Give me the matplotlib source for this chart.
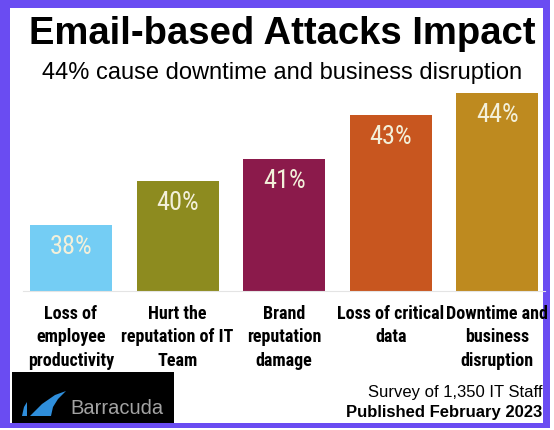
import matplotlib
matplotlib.use("Agg")
import matplotlib.pyplot as plt
from matplotlib.patches import Rectangle, Polygon

categories = [
    "Loss of\nemployee\nproductivity",
    "Hurt the\nreputation of IT\nTeam",
    "Brand\nreputation\ndamage",
    "Loss of critical\ndata",
    "Downtime and\nbusiness\ndisruption",
]
values = [38, 40, 41, 43, 44]
bar_colors = ["#74cdf4", "#8d8b1f", "#8b1a4b", "#c8561f", "#be8a1f"]

title = "Email-based Attacks Impact"
subtitle = "44% cause downtime and business disruption"
footer_survey = "Survey of 1,350 IT Staff"
footer_pub = "Published February 2023"

W, H = 554, 430
narrow = ["Roboto Condensed", "Fira Sans Condensed", "DejaVu Sans"]
sans = ["Liberation Sans", "DejaVu Sans"]

fig = plt.figure(figsize=(W / 100, H / 100), dpi=100)
fig.patch.set_facecolor("white")


def px(x, y):
    # pixel coords from top-left -> figure fraction
    return x / W, 1 - y / H


# purple frame
fig.patches.append(Rectangle((0, 1 - 428 / H), 550 / W, 428 / H, transform=fig.transFigure,
                             facecolor="#6a4cf2", edgecolor="none", zorder=-2))
fig.patches.append(Rectangle((10 / W, 1 - 423 / H), 533 / W, 415 / H, transform=fig.transFigure,
                             facecolor="white", edgecolor="none", zorder=-1))

# axes placed by pixel
left, right, top, base = 17.7, 550.7, 85, 290.7
ax = fig.add_axes([left / W, 1 - base / H, (right - left) / W, (base - top) / H])
ax.set_zorder(1)
ax.set_facecolor("none")
ymin = 35
ax.set_ylim(ymin, ymin + (base - top) / 22)
ax.set_xlim(-0.5, len(values) - 0.5)

x = list(range(len(values)))
ax.bar(x, [v - ymin for v in values], bottom=ymin, width=0.77, color=bar_colors, zorder=2)

for i, v in enumerate(values):
    ax.text(i, v - 1.0, f"{v}%", ha="center", va="center", fontsize=19,
            color="#f3f0da", family=narrow, zorder=3)
    ax.annotate(categories[i], xy=(i, ymin), xytext=(0, -10), textcoords="offset points",
                ha="center", va="top", fontsize=13, fontweight="bold", family=narrow,
                linespacing=1.4, annotation_clip=False)

for s in ["top", "right", "left"]:
    ax.spines[s].set_visible(False)
ax.spines["bottom"].set_color("#e4e4e4")
ax.spines["bottom"].set_bounds(-0.45, 4.45)
ax.set_xticks([])
ax.set_yticks([])

# titles
fig.text(*px(282, 34), title, ha="center", va="center", fontsize=27.5, fontweight="bold", family=sans)
fig.text(*px(282, 73), subtitle, ha="center", va="center", fontsize=17, family=sans)

# footer
fig.text(*px(542, 392), footer_survey, ha="right", va="center", fontsize=12, family=sans)
fig.text(*px(542, 413), footer_pub, ha="right", va="center", fontsize=12, fontweight="bold", family=sans)

# logo box
fig.patches.append(Rectangle(px(12, 423), 162 / W, 51 / H, transform=fig.transFigure,
                             facecolor="black", edgecolor="none", zorder=1))
fin = [(30, 416), (42, 404), (55, 395), (66, 391), (58, 399), (53, 407), (51, 416)]
fig.patches.append(Polygon([px(a, b) for a, b in fin], closed=True, transform=fig.transFigure,
                           facecolor="#2f8edb", edgecolor="none", zorder=2))
sliver = [(22, 416), (24, 407), (27, 402), (27, 416)]
fig.patches.append(Polygon([px(a, b) for a, b in sliver], closed=True, transform=fig.transFigure,
                           facecolor="#2f8edb", edgecolor="none", zorder=2))
fig.text(*px(70, 408), "Barracuda", ha="left", va="center", fontsize=14.5, color="#a3a3a3", family=sans)

fig.savefig("out.png", dpi=100)
